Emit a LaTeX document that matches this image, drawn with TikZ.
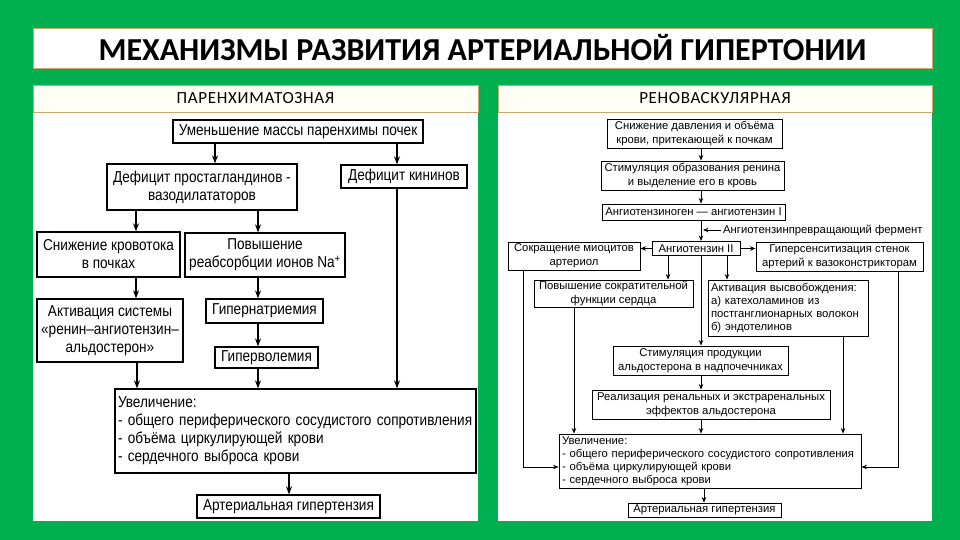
\documentclass[tikz,border=0pt]{standalone}
\usepackage{fontspec}
\setmainfont{Liberation Sans}
\newfontfamily\narrowf[FakeStretch=0.86]{Liberation Sans}
\newfontfamily\titlef{Carlito}
\newfontfamily\hdrf[LetterSpace=4]{Carlito}
\usetikzlibrary{arrows.meta}
\definecolor{bggreen}{RGB}{0,176,80}
\definecolor{tanline}{RGB}{205,165,110}
\definecolor{hdrfill}{RGB}{255,255,246}
\begin{document}
\begin{tikzpicture}[x=1pt,y=-1pt,
  lbox/.style={draw=black, line width=1.3pt, fill=white, inner sep=0pt, align=center,
    font=\narrowf\fontsize{15.8}{18}\selectfont},
  rbox/.style={draw=black, line width=0.9pt, fill=white, inner sep=0pt, align=center,
    font=\fontsize{11.3}{14}\selectfont},
  larr/.style={line width=1.3pt, -{Stealth[length=8pt,width=6pt]}},
  rarr/.style={line width=0.9pt, -{Stealth[length=5.5pt,width=4.5pt]}},
  hdr/.style={draw=tanline, line width=0.8pt, fill=hdrfill, inner sep=0pt,
    font=\hdrf\fontsize{17}{18}\selectfont},
  ttl/.style={draw=tanline, line width=0.8pt, fill=white, inner sep=0pt,
    font=\titlef\bfseries\fontsize{32}{36}\selectfont}
]
\useasboundingbox (0,0) rectangle (960,540);
\fill[bggreen] (0,0) rectangle (960,540);
\fill[white] (33,112) rectangle (478,521);
\fill[white] (498,112) rectangle (932,521);

\node[ttl, minimum width=899pt, minimum height=40pt] (title) at (482.5,48) {МЕХАНИЗМЫ РАЗВИТИЯ АРТЕРИАЛЬНОЙ ГИПЕРТОНИИ};
\node[hdr, minimum width=445pt, minimum height=27pt] (lh) at (255.5,98.5) {ПАРЕНХИМАТОЗНАЯ};
\node[hdr, minimum width=434pt, minimum height=27pt] (rh) at (715,98.5) {РЕНОВАСКУЛЯРНАЯ};

% ---------------- left panel ----------------
\node[lbox, minimum width=250pt, minimum height=23pt] (L1) at (298,131.5) {Уменьшение массы паренхимы почек};
\node[lbox, minimum width=190pt, minimum height=46pt] (L2) at (202,187) {Дефицит простагландинов -\\вазодилататоров};
\node[lbox, minimum width=126pt, minimum height=23pt] (L3) at (404,176.5) {Дефицит кининов};
\node[lbox, minimum width=143pt, minimum height=45pt] (L4) at (108.5,254.5) {Снижение кровотока\\в почках};
\node[lbox, minimum width=160pt, minimum height=44pt] (L5) at (265,255) {Повышение\\реабсорбции ионов Na\textsuperscript{+}};
\node[lbox, minimum width=146pt, minimum height=63pt] (L6) at (110,330.5) {Активация системы\\«ренин–ангиотензин–\\альдостерон»};
\node[lbox, minimum width=117pt, minimum height=24pt] (L7) at (264.5,311) {Гипернатриемия};
\node[lbox, minimum width=103pt, minimum height=21pt] (L8) at (266.5,357.5) {Гиперволемия};
\node[lbox, inner xsep=3pt, text width=355pt, minimum height=84pt, align=left] (L9) at (295.5,431) {Увеличение:\\- общего периферического сосудистого сопротивления\\- объёма циркулирующей крови\\- сердечного выброса крови};
\node[lbox, minimum width=183pt, minimum height=23pt] (L10) at (288.5,506.5) {Артериальная гипертензия};

\draw[larr] (L1.south -| 215,0) -- (L2.north -| 215,0);
\draw[larr] (L1.south -| 397,0) -- (L3.north -| 397,0);
\draw[larr] (L2.south -| 136,0) -- (L4.north -| 136,0);
\draw[larr] (L2.south -| 258,0) -- (L5.north -| 258,0);
\draw[larr] (L4.south -| 136,0) -- (L6.north -| 136,0);
\draw[larr] (L5.south -| 258,0) -- (L7.north -| 258,0);
\draw[larr] (L7.south -| 258,0) -- (L8.north -| 258,0);
\draw[larr] (L6.south -| 137,0) -- (L9.north -| 137,0);
\draw[larr] (L8.south -| 258,0) -- (L9.north -| 258,0);
\draw[larr] (L3.south -| 397,0) -- (L9.north -| 397,0);
\draw[larr] (L9.south -| 289,0) -- (L10.north -| 289,0);

% ---------------- right panel ----------------
\node[rbox, minimum width=175pt, minimum height=29pt] (R1) at (694.5,133.5) {Снижение давления и объёма\\крови, притекающей к почкам};
\node[rbox, minimum width=183pt, minimum height=29pt] (R2) at (692.5,175.5) {Стимуляция образования ренина\\и выделение его в кровь};
\node[rbox, minimum width=183pt, minimum height=16pt] (R3) at (693.5,212) {Ангиотензиноген — ангиотензин I};
\node[rbox, minimum width=88pt, minimum height=14pt] (R4) at (696,248.5) {Ангиотензин II};
\node[rbox, minimum width=132pt, minimum height=28pt] (R5) at (574,256) {Сокращение миоцитов\\артериол};
\node[rbox, minimum width=167pt, minimum height=29pt] (R6) at (839.5,256.5) {Гиперсенситизация стенок\\артерий к вазоконстрикторам};
\node[rbox, minimum width=159pt, minimum height=27pt] (R7) at (613.5,293.5) {Повышение сократительной\\функции сердца};
\node[rbox, inner xsep=3pt, text width=154pt, minimum height=56pt, align=left, font=\fontsize{11.3}{13}\selectfont] (R8) at (788,308) {Активация высвобождения:\\а) катехоламинов из\\постганглионарных волокон\\б) эндотелинов};
\node[rbox, minimum width=175pt, minimum height=29pt] (R9) at (700.5,360.5) {Стимуляция продукции\\альдостерона в надпочечниках};
\node[rbox, minimum width=238pt, minimum height=29pt] (R10) at (711,404.5) {Реализация ренальных и экстраренальных\\эффектов альдостерона};
\node[rbox, inner xsep=3pt, text width=296pt, minimum height=54pt, align=left, font=\fontsize{11.3}{13}\selectfont] (R11) at (710,461) {Увеличение:\\- общего периферического сосудистого сопротивления\\- объёма циркулирующей крови\\- сердечного выброса крови};
\node[rbox, minimum width=153pt, minimum height=14pt] (R12) at (704.5,510) {Артериальная гипертензия};

\node[font=\fontsize{11.3}{14}\selectfont, anchor=west, inner sep=0pt] (enz) at (723,230) {Ангиотензинпревращающий фермент};
\coordinate (enzend) at (703,230);

\draw[rarr] (R1.south -| 701,0) -- (R2.north -| 701,0);
\draw[rarr] (R2.south -| 701,0) -- (R3.north -| 701,0);
\draw[rarr] (R3.south -| 701,0) -- (R4.north -| 701,0);
\draw[rarr] ([xshift=-2pt]enz.west) -- (enzend);
\draw[rarr] (R4.west) -- (R5.east |- R4.west);
\draw[rarr] (R4.east) -- (R6.west |- R4.east);
\draw[rarr] (R4.south -| 668,0) -- (R7.north -| 668,0);
\draw[rarr] (R4.south -| 727,0) -- (R8.north -| 727,0);
\draw[rarr] (R4.south -| 701,0) -- (R9.north -| 701,0);
\draw[rarr] (R9.south -| 701,0) -- (R10.north -| 701,0);
\draw[rarr] (R10.south -| 701,0) -- (R11.north -| 701,0);
\draw[rarr] (R7.south -| 574,0) -- (R11.north -| 574,0);
\draw[rarr] (R8.south -| 843,0) -- (R11.north -| 843,0);
\draw[rarr] (R5.south -| 523,0) |- ([yshift=-6pt]R11.west);
\draw[rarr] (R6.south -| 898,0) |- ([yshift=-6pt]R11.east);
\draw[rarr] (R11.south -| 704,0) -- (R12.north -| 704,0);
\end{tikzpicture}
\end{document}
